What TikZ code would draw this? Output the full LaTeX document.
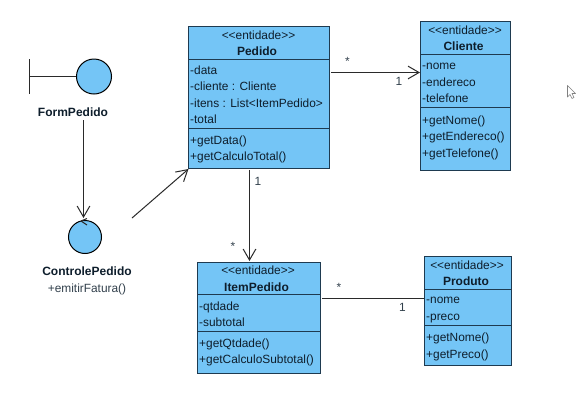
\documentclass[tikz,border=0pt]{standalone}
\usepackage{fontspec}
\setmainfont{Liberation Sans}
\usetikzlibrary{arrows.meta}
\definecolor{boxfill}{HTML}{74C5F6}
\definecolor{boxline}{HTML}{1E3A50}
\definecolor{ink}{HTML}{0E1E2C}
\definecolor{wire}{HTML}{2A2A2A}
\tikzset{
  classbox/.style={draw=boxline,line width=1pt,fill=boxfill,inner sep=0pt,outer sep=0pt},
  divider/.style={draw=boxline,line width=1pt},
  cellfont/.style={font=\fontsize{11.9}{16.4}\selectfont,text=ink},
  stereo/.style={cellfont,anchor=center,inner sep=0pt},
  title/.style={font=\fontsize{12}{14}\selectfont\bfseries,text=ink,anchor=center,inner sep=0pt},
  members/.style={cellfont,align=left,anchor=north west,inner sep=0pt},
  plain/.style={font=\fontsize{11.9}{14}\selectfont,text=ink!85!white,inner sep=0pt},
  robust/.style={draw=black,line width=1pt,fill=boxfill,circle,inner sep=0pt},
  wirearrow/.style={draw=wire,line width=1pt,-{Straight Barb[length=11pt,width=14pt,angle'=60]}},
  wireline/.style={draw=wire,line width=1pt},
}
\newcommand{\classbox}[5]{% name, x0, y0, x1, y1
  \node[classbox,anchor=north west,minimum width=#4pt-#2pt,minimum height=#5pt-#3pt] (#1) at (#2,#3) {};
}
\begin{document}
\begin{tikzpicture}[x=1pt,y=-1pt]
\useasboundingbox (0,0) rectangle (581,416);
\fill[white] (0,0) rectangle (581,416);

% Pedido
\classbox{pedido}{188.5}{26.5}{329.5}{168.5}
\draw[divider] (188.5,59.5) -- (329.5,59.5);
\draw[divider] (188.5,128.5) -- (329.5,128.5);
\node[stereo] (pedidoS) at (258.5,35) {<{}<entidade>{}>};
\node[title] (pedidoT) at (257,51) {Pedido};
\node[members] (pedidoA) at (190,65.5) {-data\\-cliente : Cliente\\-itens : List<ItemPedido>\\-total};
\node[members] (pedidoM) at (190,135.5) {+getData()\\+getCalculoTotal()};

% Cliente
\classbox{cliente}{420.5}{21.5}{510.5}{170.5}
\draw[divider] (420.5,54.5) -- (510.5,54.5);
\draw[divider] (420.5,107.5) -- (510.5,107.5);
\node[stereo] (clienteS) at (465,30) {<{}<entidade>{}>};
\node[title] (clienteT) at (463.5,46.5) {Cliente};
\node[members] (clienteA) at (422,63) {-nome\\-endereco\\-telefone};
\node[members] (clienteM) at (422,115.5) {+getNome()\\+getEndereco()\\+getTelefone()};

% ItemPedido
\classbox{item}{197.5}{262.5}{320.5}{373.5}
\draw[divider] (197.5,294.5) -- (320.5,294.5);
\draw[divider] (197.5,331.5) -- (320.5,331.5);
\node[stereo] (itemS) at (258,270.5) {<{}<entidade>{}>};
\node[title] (itemT) at (256.5,287) {ItemPedido};
\node[members] (itemA) at (199,301.5) {-qtdade\\-subtotal};
\node[members] (itemM) at (199,338.5) {+getQtdade()\\+getCalculoSubtotal()};

% Produto
\classbox{produto}{424.5}{256.5}{511.5}{365.5}
\draw[divider] (424.5,289.5) -- (511.5,289.5);
\draw[divider] (424.5,325.5) -- (511.5,325.5);
\node[stereo] (produtoS) at (467,265) {<{}<entidade>{}>};
\node[title] (produtoT) at (466,281) {Produto};
\node[members] (produtoA) at (426,297) {-nome\\-preco};
\node[members] (produtoM) at (426,333) {+getNome()\\+getPreco()};

% Boundary FormPedido
\node[robust,minimum size=35pt] (form) at (94,76.5) {};
\coordinate (barTop) at (29.5,59);
\coordinate (barBot) at (29.5,94);
\coordinate (barMid) at (29.5,76.5);
\draw[wireline] (barTop) -- (barBot);
\draw[wireline] (barMid) -- (form);
\node[title] (formL) at (73,112) {FormPedido};

% Control ControlePedido
\node[robust,minimum size=33pt] (ctrl) at (85,237) {};
\draw[wireline] (ctrl.north) ++(-4,1) -- ++(6,-2.5);
\draw[wireline] (ctrl.north) ++(-4,1) -- ++(6,4);
\node[title] (ctrlL) at (87,271) {ControlePedido};
\node[plain] (ctrlM) at (87,289) {+emitirFatura()};

% Connectors
\coordinate (formOut) at (83.5,120);
\coordinate (ctrlIn) at (83.5,218);
\draw[wirearrow] (formOut) -- (ctrlIn);
\coordinate (ctrlOut) at (132,218);
\coordinate (pedidoIn) at (188.5,169);
\draw[wirearrow] (ctrlOut) -- (pedidoIn);
\coordinate (pedR) at (331,72.5);
\coordinate (cliL) at (420,72.5);
\draw[wirearrow] (pedR) -- (cliL);
\coordinate (pedB) at (249.5,170);
\coordinate (itemTop) at (249.5,261);
\draw[wirearrow] (pedB) -- (itemTop);
\coordinate (itemR) at (322,298.5);
\coordinate (prodL) at (424,298.5);
\draw[wireline] (itemR) -- (prodL);

% Multiplicities
\node[plain] (m1) at (347.5,61) {*};
\node[plain] (m2) at (399,81.5) {1};
\node[plain] (m3) at (258,181.5) {1};
\node[plain] (m4) at (233,246) {*};
\node[plain] (m5) at (339,287) {*};
\node[plain] (m6) at (402.5,307) {1};

% Mouse pointer
\draw[gray,line width=.6pt,fill=white,line join=round]
 (567.5,85.5) -- (567.5,97) -- (570,94.5) -- (572,98.5) -- (574,97.5) -- (572,93.5) -- (575.5,93.5) -- cycle;
\end{tikzpicture}
\end{document}
